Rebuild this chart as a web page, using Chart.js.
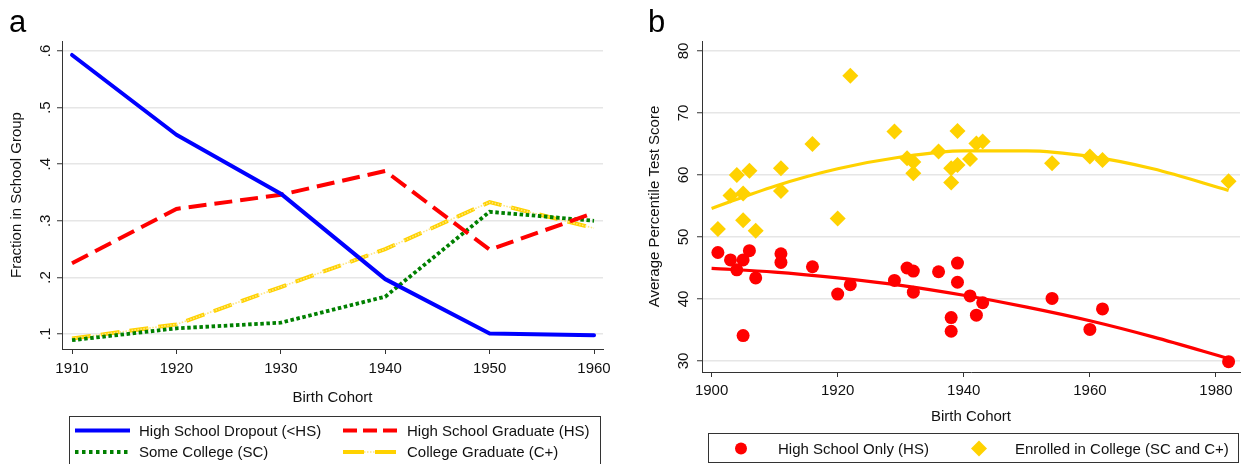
<!DOCTYPE html>
<html><head><meta charset="utf-8">
<script src="https://cdn.jsdelivr.net/npm/chart.js@4.4.1/dist/chart.umd.min.js"></script>
<style>
html,body{margin:0;padding:0;background:#fff;}
body{width:1248px;height:464px;position:relative;overflow:hidden;font-family:'Liberation Sans',Arial,sans-serif;}
.panel{position:absolute;top:0;width:620px;height:464px;}
.plabel{position:absolute;font-size:31px;line-height:31px;color:#000;font-family:'Liberation Sans',Arial,sans-serif;}
</style></head><body>
<div class="panel" style="left:0"><canvas id="ca" width="620" height="464"></canvas></div>
<div class="panel" style="left:628px"><canvas id="cb" width="620" height="464"></canvas></div>
<div class="plabel" style="left:9px;top:6px">a</div>
<div class="plabel" style="left:648px;top:6px">b</div>
<script>
// ---------- Panel a data ----------
const cohortsA = [1910, 1920, 1930, 1940, 1950, 1960];
const dropoutShare = [0.593, 0.452, 0.348, 0.197, 0.101, 0.098];
const hsGradShare = [0.225, 0.321, 0.346, 0.388, 0.249, 0.314];
const someCollegeShare = [0.089, 0.110, 0.120, 0.166, 0.316, 0.300];
const collegeGradShare = [0.092, 0.117, 0.183, 0.250, 0.333, 0.287];
const xTicksA = [1910, 1920, 1930, 1940, 1950, 1960];
const yTicksA = [0.1, 0.2, 0.3, 0.4, 0.5, 0.6];
const yTickLabelsA = ['.1', '.2', '.3', '.4', '.5', '.6'];
const labelsA = ['High School Dropout (<HS)', 'High School Graduate (HS)', 'Some College (SC)', 'College Graduate (C+)'];

// ---------- Panel b data ----------
const hsOnlyYears = [1901,1903,1904,1905,1905,1906,1907,1911,1911,1916,1920,1922,1929,1931,1932,1932,1936,1938,1938,1939,1939,1941,1942,1943,1954,1960,1962,1982];
const hsOnlyScores = [47.5,46.3,44.7,46.3,34.1,47.8,43.4,47.3,45.9,45.2,40.8,42.3,43.0,45.0,44.5,41.1,44.4,37.0,34.8,45.8,42.7,40.5,37.4,39.4,40.1,35.1,38.4,29.9];
const collegeYears = [1901,1903,1904,1905,1905,1906,1907,1911,1911,1916,1920,1922,1929,1931,1932,1932,1936,1938,1938,1939,1939,1941,1942,1943,1954,1960,1962,1982];
const collegeScores = [51.3,56.7,60.0,57.0,52.7,60.7,51.0,61.1,57.4,65.0,53.0,76.0,67.0,62.7,62.1,60.3,63.8,61.1,58.8,67.1,61.6,62.6,65.1,65.4,61.9,63.0,62.4,59.0];
const fitYears = [1900, 1910, 1920, 1930, 1940, 1950, 1960, 1970, 1982];
const hsOnlyFit = [44.95, 44.35, 43.4, 42.2, 40.6, 38.7, 36.5, 33.9, 30.4];
const collegeFit = [54.6, 58.2, 61.0, 62.9, 63.9, 63.9, 63.0, 61.0, 57.5];
const xTicksB = [1900, 1920, 1940, 1960, 1980];
const yTicksB = [30, 40, 50, 60, 70, 80];
const labelsB = ['High School Only (HS)', 'Enrolled in College (SC and C+)'];

const FONT = "'Liberation Sans', Arial, sans-serif";
Chart.defaults.font.family = FONT;
Chart.defaults.color = '#111';

const toXY = (xs, ys) => xs.map((x, i) => ({x: x, y: ys[i]}));

const BLUE = '#0000FF', RED = '#FF0000', GREEN = '#008000', GOLD = '#FFD200', LIGHTGOLD = '#FFE680';

// legend plugin (draws a boxed legend from dataset styles and labels)
const boxLegend = {
  id: 'boxLegend',
  afterDraw(chart, args, opts) {
    const ctx = chart.ctx;
    ctx.save();
    ctx.fillStyle = '#fff';
    ctx.fillRect(opts.box.x, opts.box.y, opts.box.w, opts.box.h);
    ctx.strokeStyle = '#333';
    ctx.lineWidth = 1;
    ctx.setLineDash([]);
    ctx.strokeRect(opts.box.x + 0.5, opts.box.y + 0.5, opts.box.w, opts.box.h);
    opts.items.forEach(it => {
      (it.layers || []).forEach(L => {
        const ds = chart.data.datasets[L.ds];
        ctx.beginPath();
        ctx.strokeStyle = ds.borderColor;
        ctx.lineWidth = ds.borderWidth;
        ctx.lineCap = 'butt';
        ctx.setLineDash(L.dash || []);
        ctx.moveTo(it.x1, it.y);
        ctx.lineTo(it.x2, it.y);
        ctx.stroke();
      });
      ctx.setLineDash([]);
      if (it.marker) {
        const ds = chart.data.datasets[it.marker.ds];
        ctx.fillStyle = ds.backgroundColor;
        ctx.beginPath();
        if (it.marker.shape === 'circle') {
          ctx.arc(it.mx, it.y, it.marker.r, 0, Math.PI * 2);
        } else {
          const r = it.marker.r;
          ctx.moveTo(it.mx, it.y - r); ctx.lineTo(it.mx + r, it.y);
          ctx.lineTo(it.mx, it.y + r); ctx.lineTo(it.mx - r, it.y); ctx.closePath();
        }
        ctx.fill();
      }
      ctx.fillStyle = '#111';
      ctx.font = '15px ' + FONT;
      ctx.textBaseline = 'middle';
      ctx.textAlign = 'left';
      ctx.fillText(it.text, it.tx, it.y + 1);
    });
    ctx.restore();
  }
};

function yAxisCommon(min, max, ticks, labels, width, title, titlePad) {
  return {
    type: 'linear', position: 'left', min: min, max: max,
    afterBuildTicks: s => { s.ticks = ticks.map(v => ({value: v})); },
    afterFit: s => { s.width = width; },
    ticks: {
      callback: (v) => { const i = ticks.findIndex(t => Math.abs(t - v) < 1e-9); return i >= 0 ? labels[i] : ''; },
      minRotation: 90, maxRotation: 90, crossAlign: 'center', padding: 5,
      font: {size: 15, family: FONT}, color: '#111', autoSkip: false
    },
    grid: {color: '#e6e6e6', lineWidth: 1.5, tickColor: '#333', tickWidth: 1, tickLength: 5, drawTicks: true},
    border: {display: true, color: '#333', width: 1},
    title: {display: true, text: title, font: {size: 15, family: FONT}, color: '#111', padding: {top: titlePad, bottom: 0}}
  };
}
function xAxisCommon(min, max, ticks, height, pad) {
  return {
    type: 'linear', position: 'bottom', min: min, max: max,
    afterBuildTicks: s => { s.ticks = ticks.map(v => ({value: v})); },
    afterFit: s => { s.height = height; },
    ticks: {callback: v => String(v), maxRotation: 0, minRotation: 0, autoSkip: false, padding: pad,
      font: {size: 15, family: FONT}, color: '#111'},
    grid: {drawOnChartArea: false, drawTicks: true, tickLength: 5, tickColor: '#333', tickWidth: 1},
    border: {display: true, color: '#333', width: 1},
    title: {display: true, text: 'Birth Cohort', font: {size: 15, family: FONT}, color: '#111', padding: {top: 0, bottom: 0}}
  };
}

// ---------- Chart a ----------
new Chart(document.getElementById('ca'), {
  type: 'line',
  data: {
    datasets: [
      {label: labelsA[0], data: toXY(cohortsA, dropoutShare), borderColor: BLUE, borderWidth: 4, pointRadius: 0, tension: 0, borderCapStyle: 'round', borderJoinStyle: 'round'},
      {label: labelsA[1], data: toXY(cohortsA, hsGradShare), borderColor: RED, borderWidth: 4, borderDash: [18, 8], pointRadius: 0, tension: 0},
      {label: labelsA[2], data: toXY(cohortsA, someCollegeShare), borderColor: GREEN, borderWidth: 3.8, borderDash: [3.5, 2.6], pointRadius: 0, tension: 0},
      {label: labelsA[3] + ' (dots)', data: toXY(cohortsA, collegeGradShare), borderColor: LIGHTGOLD, borderWidth: 1.6, borderDash: [1.5, 1.5], pointRadius: 0, tension: 0},
      {label: labelsA[3], data: toXY(cohortsA, collegeGradShare), borderColor: GOLD, borderWidth: 4, borderDash: [19, 10], pointRadius: 0, tension: 0}
    ]
  },
  options: {
    responsive: false, animation: false, devicePixelRatio: 1,
    layout: {padding: {left: 0, top: 41, right: 17, bottom: 57}},
    plugins: {
      legend: {display: false}, tooltip: {enabled: false},
      boxLegend: {
        box: {x: 69, y: 416, w: 531, h: 60},
        items: [
          {x1: 75, x2: 130, y: 430.5, tx: 139, text: labelsA[0], layers: [{ds: 0}]},
          {x1: 343, x2: 397, y: 430.5, tx: 407, text: labelsA[1], layers: [{ds: 1, dash: [14, 6]}]},
          {x1: 75, x2: 130, y: 452, tx: 139, text: labelsA[2], layers: [{ds: 2, dash: [3.5, 3.5]}]},
          {x1: 343, x2: 397, y: 452, tx: 407, text: labelsA[3], layers: [{ds: 3, dash: [1.5, 1.5]}, {ds: 4, dash: [21, 11]}]}
        ]
      }
    },
    scales: {
      x: xAxisCommon(1909.04, 1960.86, xTicksA, 58, 6),
      y: yAxisCommon(0.0735, 0.6177, yTicksA, yTickLabelsA, 62, 'Fraction in School Group', 8)
    }
  },
  plugins: [boxLegend]
});

// ---------- Chart b ----------
new Chart(document.getElementById('cb'), {
  type: 'scatter',
  data: {
    datasets: [
      {label: labelsB[0], data: toXY(hsOnlyYears, hsOnlyScores), backgroundColor: RED, borderColor: RED, pointStyle: 'circle', pointRadius: 6.5, pointBorderWidth: 0, showLine: false},
      {label: labelsB[1], data: toXY(collegeYears, collegeScores), backgroundColor: GOLD, borderColor: GOLD, pointStyle: 'rectRot', pointRadius: 8, pointBorderWidth: 0, showLine: false},
      {label: 'HS fit', data: toXY(fitYears, hsOnlyFit), borderColor: RED, backgroundColor: RED, borderWidth: 3.2, showLine: true, pointRadius: 0, cubicInterpolationMode: 'monotone'},
      {label: 'College fit', data: toXY(fitYears, collegeFit), borderColor: GOLD, backgroundColor: GOLD, borderWidth: 3.2, showLine: true, pointRadius: 0, cubicInterpolationMode: 'monotone'}
    ]
  },
  options: {
    responsive: false, animation: false, devicePixelRatio: 1,
    layout: {padding: {left: 0, top: 41, right: 2, bottom: 38}},
    plugins: {
      legend: {display: false}, tooltip: {enabled: false},
      boxLegend: {
        box: {x: 80, y: 433, w: 530, h: 29},
        items: [
          {y: 448.5, tx: 150, text: labelsB[0], mx: 113, marker: {ds: 0, shape: 'circle', r: 6}},
          {y: 448.5, tx: 387, text: labelsB[1], mx: 351, marker: {ds: 1, shape: 'diamond', r: 8}}
        ]
      }
    },
    scales: {
      x: xAxisCommon(1898.48, 1983.81, xTicksB, 54, 5),
      y: yAxisCommon(28.23, 81.61, yTicksB, yTicksB.map(String), 74, 'Average Percentile Test Score', 18)
    }
  },
  plugins: [boxLegend]
});
</script>
</body></html>
